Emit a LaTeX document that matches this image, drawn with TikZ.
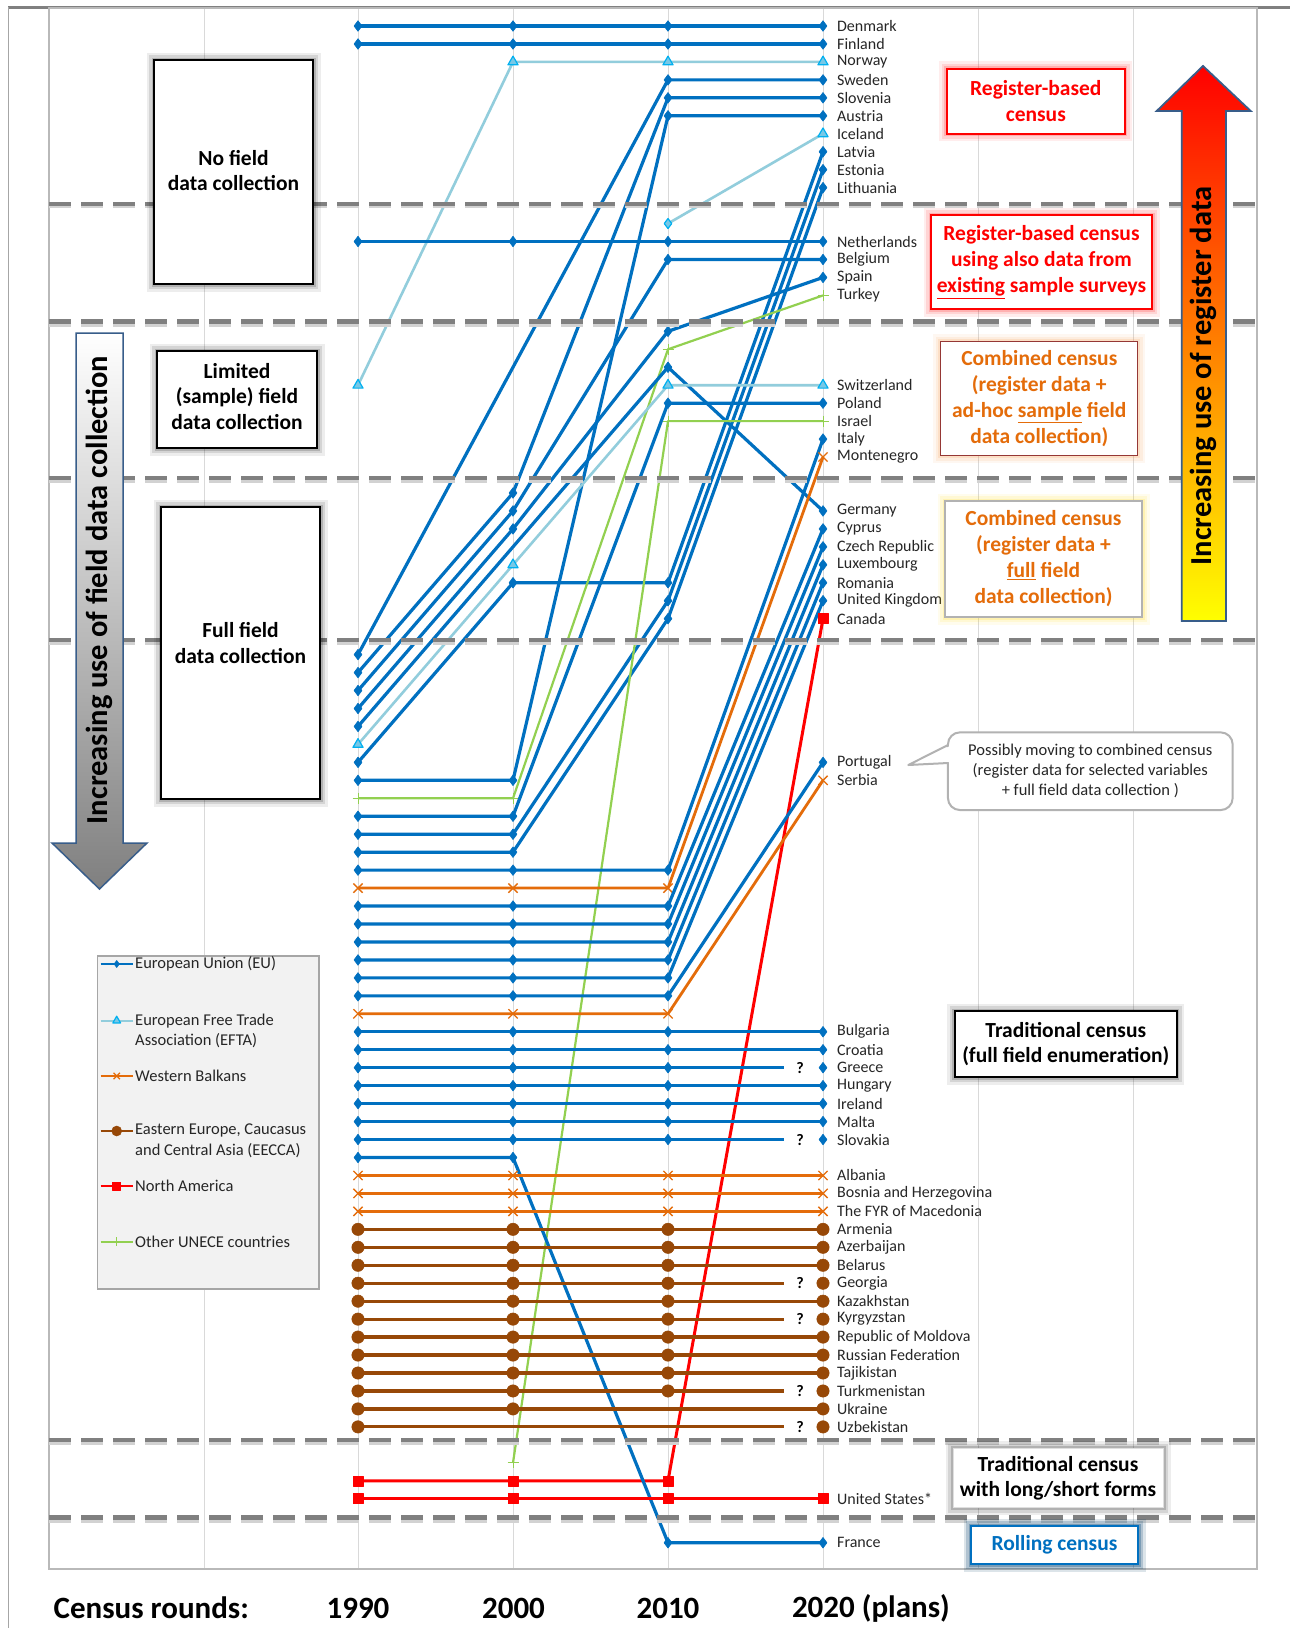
\documentclass[tikz,border=0pt]{standalone}
\usepackage{fontspec}
\setmainfont{Carlito}
\usetikzlibrary{plotmarks}
\definecolor{eublue}{RGB}{0,112,192}
\definecolor{eftaline}{RGB}{146,205,220}
\definecolor{eftamark}{RGB}{0,176,240}
\definecolor{eftafill}{RGB}{120,200,230}
\definecolor{wborange}{RGB}{228,108,10}
\definecolor{ecbrown}{RGB}{151,72,7}
\definecolor{nared}{RGB}{255,0,0}
\definecolor{othgreen}{RGB}{146,208,80}
\definecolor{sepgray}{RGB}{128,128,128}
\definecolor{arrowblue}{RGB}{56,93,138}
\definecolor{boxbrown}{RGB}{149,55,53}
\definecolor{glowyellow}{RGB}{255,215,0}
\definecolor{gloworange}{RGB}{247,150,70}
\newcommand\fsz[2]{\fontsize{#1}{#2}\selectfont}
\tikzset{
  gridln/.style={draw=gray!30, line width=1pt},
  plotframe/.style={draw=gray!55, line width=1.5pt},
  sepline/.style={draw=sepgray, line width=#1, dash pattern=on 22pt off 10pt},
  eu/.style={draw=eublue, line width=3.2pt, line join=round, mark=diamond*, mark size=5.3pt,
    mark options={fill=eublue, draw=eublue, line width=.6pt}},
  efta/.style={draw=eftaline, line width=2.6pt, line join=round, mark=triangle*, mark size=5.8pt,
    mark options={fill=eftafill, draw=eftamark, line width=1.2pt}},
  wb/.style={draw=wborange, line width=2.8pt, line join=round, mark=x, mark size=6.5pt,
    mark options={draw=wborange, line width=1.3pt}},
  eecca/.style={draw=ecbrown, line width=3.2pt, mark=*, mark size=6.2pt,
    mark options={fill=ecbrown, draw=ecbrown, line width=.5pt}},
  na/.style={draw=nared, line width=3pt, line join=round, mark=square*, mark size=5pt,
    mark options={fill=nared, draw=nared, line width=.5pt}},
  oth/.style={draw=othgreen, line width=2.2pt, line join=round, mark=+, mark size=5.5pt,
    mark options={draw=othgreen, line width=1pt}},
  lbl/.style={anchor=west, inner sep=0pt, font=\fsz{16}{16}, text=black!85},
  qmark/.style={inner sep=0pt, font=\fsz{16}{16}\bfseries},
  glow/.style={preaction={draw=#1, line width=15pt, draw opacity=.07},
    preaction={draw=#1, line width=10pt, draw opacity=.10},
    preaction={draw=#1, line width=5pt, draw opacity=.16}},
  fieldbox/.style={draw=black, line width=2pt, fill=white, inner sep=0pt, glow=black},
  boxtxt/.style={align=center, inner sep=0pt, font=\fsz{21.5}{25.5}\bfseries},
  regbox/.style={draw=nared, line width=1.5pt, fill=white, inner sep=0pt, glow=nared,
    text=nared, align=center, font=\fsz{21.5}{26}\bfseries},
  combbox/.style={line width=1.3pt, fill=white, inner sep=0pt, text=wborange,
    align=center, font=\fsz{21.5}{26}\bfseries},
  tradbox/.style={draw=black, line width=2pt, fill=white, inner sep=0pt, glow=black,
    align=center, font=\fsz{21.5}{25.5}\bfseries},
  callbox/.style={draw=gray!60, line width=2pt, fill=white, rounded corners=12pt,
    inner sep=0pt, align=center, text=black!85, font=\fsz{16.5}{20}},
  legtxt/.style={anchor=west, inner sep=0pt, align=left, text=black!85, font=\fsz{16.5}{20.5}},
  axlbl/.style={inner sep=0pt, font=\fsz{31}{31}\bfseries},
  arrtxt/.style={rotate=90, inner sep=0pt, font=\fsz{30.5}{30.5}\bfseries}
}

\begin{document}
\begin{tikzpicture}[x=1pt,y=-1pt]
  \useasboundingbox (0,0) rectangle (1290,1628);
  \fill[white] (0,0) rectangle (1290,1628);
  \draw[gray, line width=3pt] (8,7) -- (1290,7);
  \draw[gray!70, line width=1pt] (8,7) -- (8,1628);
  \foreach \gx in {204,358,513,668,823,978,1133}
    \draw[gridln] (\gx,8) -- (\gx,1569);
  \draw[plotframe] (49,8) rectangle (1257,1569);

  % census rounds: x = round, y = row
  \begin{scope}[shift={(358,26)}, x=155pt, y=-17.96pt]
    \draw[eu] plot coordinates {(0,0) (1,0) (2,0) (3,0)};
    \draw[eu] plot coordinates {(0,1) (1,1) (2,1) (3,1)};
    \draw[efta] plot coordinates {(0,20) (1,2) (2,2) (3,2)};
    \draw[eu] plot coordinates {(0,35) (2,3) (3,3)};
    \draw[eu] plot coordinates {(0,36) (1,26) (2,4) (3,4)};
    \draw[eu] plot coordinates {(0,42) (1,42) (2,5) (3,5)};
    \draw[efta] (2,11) -- (3,6);
    \draw[efta] plot coordinates {(3,6)};
    \draw[efta, mark=diamond*, mark size=5pt] plot coordinates {(2,11)};
    \draw[eu] plot coordinates {(0,41) (1,31) (2,31) (3,7)};
    \draw[eu] plot coordinates {(0,45) (1,45) (2,32) (3,8)};
    \draw[eu] plot coordinates {(0,46) (1,46) (2,33) (3,9)};
    \draw[eu] plot coordinates {(0,12) (1,12) (2,12) (3,12)};
    \draw[eu] plot coordinates {(0,37) (1,27) (2,13) (3,13)};
    \draw[eu] plot coordinates {(0,38) (1,28) (2,17) (3,14)};
    \draw[oth] plot coordinates {(0,43) (1,43) (2,18) (3,15)};
    \draw[eu] plot coordinates {(0,39) (2,19) (3,27)};
    \draw[efta] plot coordinates {(0,40) (1,30) (2,20) (3,20)};
    \draw[eu] plot coordinates {(0,44) (1,44) (2,21) (3,21)};
    \draw[oth] plot coordinates {(1,80) (2,22) (3,22)};
    \draw[eu] plot coordinates {(0,47) (1,47) (2,47) (3,23)};
    \draw[wb] plot coordinates {(0,48) (1,48) (2,48) (3,24)};
    \foreach \r/\t in {49/28,50/29,51/30,52/31,53/32}
      \draw[eu] plot coordinates {(0,\r) (1,\r) (2,\r) (3,\t)};
    \draw[na] plot coordinates {(0,81) (1,81) (2,81) (3,33)};
    \draw[eu] plot coordinates {(0,54) (1,54) (2,54) (3,41)};
    \draw[wb] plot coordinates {(0,55) (1,55) (2,55) (3,42)};
    % traditional
    \foreach \r in {56,57,59,60,61}
      \draw[eu] plot coordinates {(0,\r) (1,\r) (2,\r) (3,\r)};
    \foreach \r in {58,62} {
      \draw[eu] (0,\r) -- (2.748,\r);
      \draw[eu, only marks] plot coordinates {(0,\r) (1,\r) (2,\r) (3,\r)};
      \node[qmark] at (2.852,\r) {?};
    }
    \draw[eu] plot coordinates {(0,63) (1,63) (2,84.45) (3,84.45)};
    \foreach \r in {64,65,66}
      \draw[wb] plot coordinates {(0,\r) (1,\r) (2,\r) (3,\r)};
    \foreach \r in {67,68,69,71,73,74,75}
      \draw[eecca] plot coordinates {(0,\r) (1,\r) (2,\r) (3,\r)};
    \foreach \r in {70,72,76} {
      \draw[eecca] (0,\r) -- (2.748,\r);
      \draw[eecca, only marks] plot coordinates {(0,\r) (1,\r) (2,\r) (3,\r)};
      \node[qmark] at (2.852,\r) {?};
    }
    \draw[eecca] (0,77) -- (3,77);
    \draw[eecca, only marks] plot coordinates {(0,77) (1,77) (3,77)};
    \draw[eecca] (0,78) -- (2.748,78);
    \draw[eecca, only marks] plot coordinates {(0,78) (3,78)};
    \node[qmark] at (2.852,78) {?};
    \draw[na] plot coordinates {(0,82) (1,82) (2,82) (3,82)};

    \foreach \r/\n in {0/Denmark,1/Finland,2/Norway,3/Sweden,4/Slovenia,5/Austria,6/Iceland,
        7/Latvia,8/Estonia,9/Lithuania,12/Netherlands,13/Belgium,14/Spain,15/Turkey,
        20/Switzerland,21/Poland,22/Israel,23/Italy,24/Montenegro,27/Germany,28/Cyprus,
        29/Czech Republic,30/Luxembourg,31/Romania,32/United Kingdom,33/Canada,41/Portugal,
        42/Serbia,56/Bulgaria,57/Croatia,58/Greece,59/Hungary,60/Ireland,61/Malta,62/Slovakia,
        64/Albania,65/Bosnia and Herzegovina,66/The FYR of Macedonia,67/Armenia,68/Azerbaijan,
        69/Belarus,70/Georgia,71/Kazakhstan,72/Kyrgyzstan,73/Republic of Moldova,
        74/Russian Federation,75/Tajikistan,76/Turkmenistan,77/Ukraine,78/Uzbekistan,
        82/United States*}
      \node[lbl] (c\r) at (3.09,\r) {\n};
    \node[lbl] (cfrance) at (3.09,84.45) {France};
  \end{scope}

  % band separators
  \foreach \sy/\sw in {204/3.5pt,321.5/5pt,478/4pt,640/4.5pt,1440/4pt,1517.5/5pt} {
    \draw[sepline=\sw, draw=gray!35] (49,\sy+2.5) -- (1257,\sy+2.5);
    \draw[sepline=\sw] (49,\sy) -- (1257,\sy);
  }

  % left side
  \node[fieldbox, minimum width=159pt, minimum height=224pt] (nofield) at (233.5,172) {};
  \node[boxtxt] (nofieldtxt) at (233.5,170.5) {No field\\data collection};
  \node[fieldbox, minimum width=160pt, minimum height=97pt] (limited) at (237,399.5) {};
  \node[boxtxt] (limitedtxt) at (237,396.5) {Limited\\(sample) field\\data collection};
  \node[fieldbox, minimum width=159pt, minimum height=292pt] (fullfield) at (240.5,653) {};
  \node[boxtxt] (fullfieldtxt) at (240.5,643) {Full field\\data collection};

  \shadedraw[top color=white, bottom color=gray, draw=arrowblue, line width=1.5pt]
    (76,333) -- (123,333) -- (123,843) -- (147,843) -- (99.5,889) -- (52,843) -- (76,843) -- cycle;
  \node[arrtxt] (fieldarrow) at (99.5,590) {Increasing use of field data collection};

  % legend
  \node[draw=gray!70, line width=1.2pt, fill=gray!10, minimum width=221.7pt, minimum height=333pt,
    inner sep=0pt] (legend) at (208.2,1122.5) {};
  \draw[eu, line width=2pt] (100.7,964) -- (132.7,964);
  \draw[eu, mark size=3.5pt] plot coordinates {(116.7,964)};
  \node[legtxt] (legeu) at (135,964) {European Union (EU)};
  \draw[efta, line width=2pt] (100.7,1020.7) -- (132.7,1020.7);
  \draw[efta, mark size=4.5pt] plot coordinates {(116.7,1020.7)};
  \node[legtxt] (legefta) at (135,1030.7) {European Free Trade\\Association (EFTA)};
  \draw[wb, line width=2pt] (100.7,1076) -- (132.7,1076);
  \draw[wb, mark size=4.5pt] plot coordinates {(116.7,1076)};
  \node[legtxt] (legwb) at (135,1076) {Western Balkans};
  \draw[eecca, line width=2.5pt] (100.7,1131) -- (132.7,1131);
  \draw[eecca, mark size=5pt] plot coordinates {(116.7,1131)};
  \node[legtxt] (legeecca) at (135,1141) {Eastern Europe, Caucasus\\and Central Asia (EECCA)};
  \draw[na, line width=2.5pt] (100.7,1186) -- (132.7,1186);
  \draw[na, mark size=4pt] plot coordinates {(116.7,1186)};
  \node[legtxt] (legna) at (135,1186) {North America};
  \draw[oth, line width=2pt] (100.7,1241.7) -- (132.7,1241.7);
  \draw[oth, mark size=4.5pt] plot coordinates {(116.7,1241.7)};
  \node[legtxt] (legoth) at (135,1241.7) {Other UNECE countries};

  % right side
  \node[regbox, minimum width=178pt, minimum height=65pt] (regbased) at (1035.8,101.3)
    {Register-based\\census};
  \node[regbox, minimum width=221pt, minimum height=94pt] (regsurvey) at (1041.5,262)
    {Register-based census\\using also data from\\\underline{existing} sample surveys};
  \node[combbox, draw=boxbrown, glow=gloworange, minimum width=197pt, minimum height=114pt]
    (combsample) at (1039.3,398.6)
    {Combined census\\(register data +\\ad-hoc \underline{sample} field\\data collection)};
  \node[combbox, draw=gray!60, glow=glowyellow, minimum width=197pt, minimum height=116pt]
    (combfull) at (1043.5,559)
    {Combined census\\(register data +\\\underline{full} field\\data collection)};

  \shadedraw[top color=red, middle color=orange, bottom color=yellow, draw=arrowblue, line width=1.8pt]
    (1181.7,621) -- (1226,621) -- (1226,111) -- (1250.7,111) -- (1203,66) -- (1156.7,111) -- (1181.7,111) -- cycle;
  \node[arrtxt] (regarrow) at (1203,376) {Increasing use of register data};

  \node[callbox, minimum width=284.7pt, minimum height=77.7pt] (possibly) at (1090.3,771.2)
    {Possibly moving to combined census\\(register data for selected variables\\+ full field data collection )};
  \coordinate (tip) at (908.3,765);
  \fill[white] (950,746) -- (tip) -- (950,762) -- cycle;
  \draw[draw=gray!60, line width=2pt, line join=round] (948,745) -- (tip) -- (948,763);

  \node[tradbox, minimum width=222pt, minimum height=66pt] (trad) at (1065.8,1044)
    {Traditional census\\(full field enumeration)};
  \node[tradbox, draw=gray!25, line width=1pt, minimum width=210pt, minimum height=59pt]
    (longshort) at (1058,1478) {Traditional census\\with long/short forms};
  \node[tradbox, draw=eublue, glow=eublue, line width=1.5pt, text=eublue,
    minimum width=167pt, minimum height=38pt] (rolling) at (1054.5,1545) {Rolling census};

  % census rounds axis
  \node[axlbl, anchor=west] (rounds) at (53.5,1608) {Census rounds:};
  \node[axlbl] (r1990) at (358,1608) {1990};
  \node[axlbl] (r2000) at (513.5,1608) {2000};
  \node[axlbl] (r2010) at (668,1608) {2010};
  \node[axlbl, anchor=west] (r2020) at (791.8,1608) {2020 (plans)};
\end{tikzpicture}
\end{document}
